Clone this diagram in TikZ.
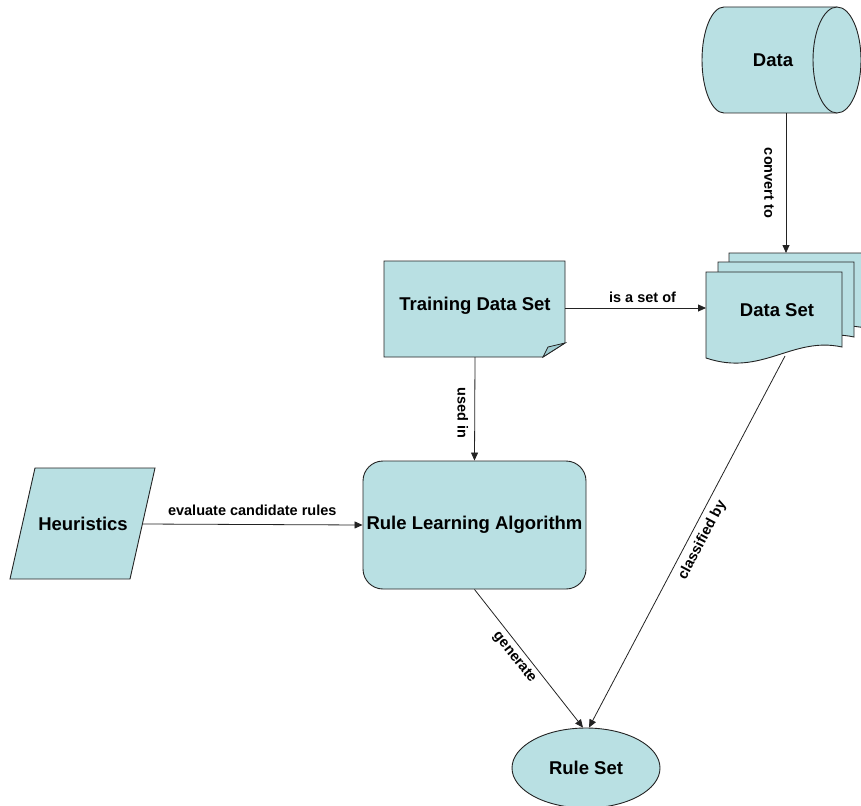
\documentclass[tikz,border=0pt]{standalone}
\usepackage{fontspec}
\setmainfont{Liberation Sans}
\usetikzlibrary{arrows.meta,shapes.geometric}

\definecolor{boxfill}{RGB}{185,224,227}
\definecolor{flapfill}{RGB}{160,205,210}
\definecolor{edge}{RGB}{35,35,35}

\tikzset{
  shapeline/.style={draw=edge, line width=0.9pt, fill=boxfill},
  nodetext/.style={font=\bfseries\fontsize{18.5}{20}\selectfont, text=black, inner sep=0pt},
  edgelabel/.style={font=\bfseries\fontsize{14.5}{16}\selectfont, text=black, inner sep=0pt},
  link/.style={draw=edge, line width=0.8pt, -{Triangle[length=8pt,width=7pt]}},
}

\begin{document}
\begin{tikzpicture}[x=1pt, y=-1pt]
\useasboundingbox (0,0) rectangle (861,805);
\clip (0,0) rectangle (861,805);

% ---- Data: horizontal cylinder ----
\fill[boxfill] (724,7) -- (837,7) -- (837,113) -- (724,113)
  arc[start angle=270, end angle=90, x radius=22pt, y radius=53pt] -- cycle;
\draw[edge, line width=0.9pt] (837,7) -- (724,7)
  arc[start angle=90, end angle=270, x radius=22pt, y radius=53pt] -- (837,113);
\draw[shapeline] (837,60) ellipse [x radius=24pt, y radius=53pt];
\node[nodetext] (data) at (773,60) {Data};
\coordinate (dataB) at (786,113);

% ---- Data Set: stack of documents ----
\foreach \dx/\dy in {23/-19, 12/-10, 0/0}{
  \begin{scope}[shift={(\dx,\dy)}]
    \draw[shapeline] (706,272) -- (842,272) -- (842,347)
      .. controls (792,336) and (762,377) .. (706,358) -- cycle;
  \end{scope}
}
\node[nodetext] (dset) at (777,310) {Data Set};
\coordinate (dsT) at (786,253);
\coordinate (dsW) at (706,308);
\coordinate (dsB) at (785,356);

% ---- Training Data Set: note with folded corner ----
\draw[shapeline] (384,261) -- (565,261) -- (565,343) -- (543,357) -- (384,357) -- cycle;
\draw[draw=edge, line width=0.8pt, fill=flapfill] (565,343) -- (548,347) -- (543,357) -- cycle;
\node[nodetext] (train) at (475,306) {Training Data Set};
\coordinate (trainE) at (565,308);
\coordinate (trainS) at (475,357);

% ---- Heuristics: parallelogram ----
\draw[shapeline] (35,468) -- (155,468) -- (130,579) -- (10,579) -- cycle;
\node[nodetext] (heur) at (83,524) {Heuristics};
\coordinate (heurE) at (142,524);

% ---- Rule Learning Algorithm ----
\node[shapeline, nodetext, rectangle, rounded corners=20pt,
      minimum width=223pt, minimum height=128pt] (rla) at (474.5,525) {Rule Learning Algorithm};

% ---- Rule Set ----
\node[shapeline, nodetext, ellipse, minimum width=148pt, minimum height=80pt] (rules) at (586,768) {Rule Set};

% ---- connectors ----
\draw[link] (dataB) -- (dsT)
  node[edgelabel, pos=0.5, xshift=-17pt, rotate=-90] {convert to};
\draw[link] (trainE) -- (dsW)
  node[edgelabel, pos=0.55, yshift=11pt] {is a set of};
\draw[link] (trainS) -- (rla.north)
  node[edgelabel, pos=0.54, xshift=-12pt, rotate=-90] {used in};
\draw[link] (heurE) -- (rla.west)
  node[edgelabel, pos=0.5, yshift=14pt] {evaluate candidate rules};
\draw[link] (rla.south) -- ([xshift=-3pt]rules.north)
  node[edgelabel, pos=0.445, xshift=-8.5pt, yshift=-6.7pt, rotate=-51.5] {generate};
\draw[link] (dsB) -- ([xshift=3pt]rules.north)
  node[edgelabel, pos=0.479, xshift=11.4pt, yshift=-6.2pt, rotate=62.3] {classified by};
\end{tikzpicture}
\end{document}
